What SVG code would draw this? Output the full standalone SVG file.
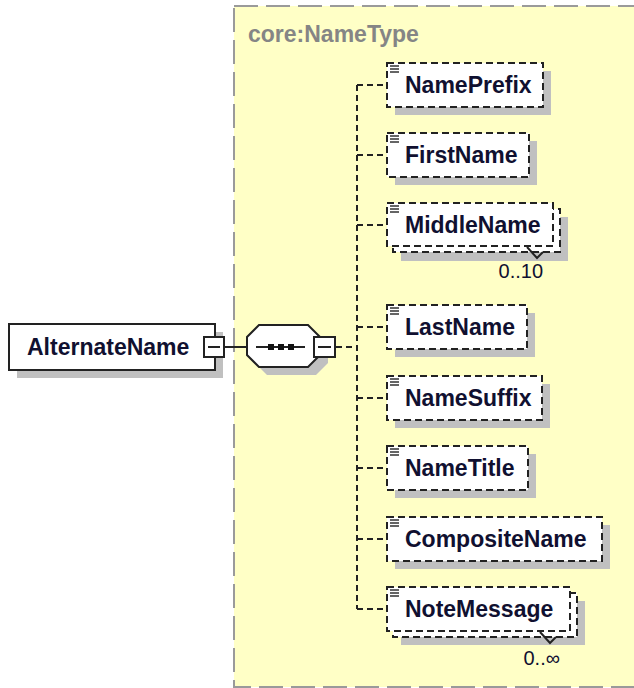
<svg xmlns="http://www.w3.org/2000/svg" width="634" height="688" viewBox="0 0 634 688">
<defs>
<style>
.t{font-family:"Liberation Sans",Arial,sans-serif;font-weight:bold;font-size:23px;fill:#101030}
.occ{font-family:"Liberation Sans",Arial,sans-serif;font-size:20px;fill:#101030;text-anchor:end}
.shadow{fill:#c0c0c0}
.el{fill:#fff;stroke:#222;stroke-width:2;stroke-dasharray:7 4}
.conn{fill:none;stroke:#222;stroke-width:2;stroke-dasharray:6 4}
.solid{fill:none;stroke:#222;stroke-width:2}
.ico{stroke:#333;stroke-width:1.3}
</style>
</defs>
<rect x="0" y="0" width="634" height="688" fill="#fff"/>
<rect x="234" y="6" width="420" height="681" fill="#ffffc6" stroke="#9a9a9a" stroke-width="2" stroke-dasharray="24 8"/>
<text x="248" y="42" style="font-family:'Liberation Sans',Arial,sans-serif;font-weight:bold;font-size:23px;fill:#858585">core:NameType</text>

<g id="connectors">
<line class="solid" x1="224" y1="347" x2="247" y2="347"/>
<line class="conn" x1="336" y1="347" x2="357" y2="347"/>
<line class="conn" x1="357" y1="85" x2="357" y2="609"/>
<line class="conn" x1="357" y1="85" x2="387" y2="85"/>
<line class="conn" x1="357" y1="155" x2="387" y2="155"/>
<line class="conn" x1="357" y1="225" x2="387" y2="225"/>
<line class="conn" x1="357" y1="327" x2="387" y2="327"/>
<line class="conn" x1="357" y1="398" x2="387" y2="398"/>
<line class="conn" x1="357" y1="468" x2="387" y2="468"/>
<line class="conn" x1="357" y1="539" x2="387" y2="539"/>
<line class="conn" x1="357" y1="609" x2="387" y2="609"/>
</g>

<g id="AlternateName">
<rect class="shadow" x="17" y="332" width="206" height="46"/>
<rect x="9" y="324" width="206" height="46" fill="#fff" stroke="#222" stroke-width="2"/>
<text class="t" x="27" y="355">AlternateName</text>
<rect x="204" y="337" width="20" height="20" fill="#fff" stroke="#222" stroke-width="2"/>
<line x1="208" y1="347" x2="220" y2="347" stroke="#222" stroke-width="2"/>
</g>

<g id="sequence">
<polygon class="shadow" points="267,333 316,333 328,345 328,363 316,375 267,375 255,363 255,345"/>
<polygon points="259,325 308,325 320,337 320,355 308,367 259,367 247,355 247,337" fill="#fff" stroke="#222" stroke-width="2"/>
<line x1="256" y1="347" x2="305" y2="347" stroke="#222" stroke-width="2"/>
<rect x="268" y="344" width="6" height="6" fill="#111"/>
<rect x="278" y="344" width="6" height="6" fill="#111"/>
<rect x="288" y="344" width="6" height="6" fill="#111"/>
<rect x="314" y="337" width="21" height="20" fill="#fff" stroke="#222" stroke-width="2"/>
<line x1="318" y1="347" x2="331" y2="347" stroke="#222" stroke-width="2"/>
</g>

<g id="NamePrefix">
<rect class="shadow" x="395" y="71" width="156" height="44"/>
<rect class="el" x="387" y="63" width="156" height="44"/>
<path class="ico" d="M390 66h9M390 69h9M390 72h9"/>
<text class="t" x="405" y="93">NamePrefix</text>
</g>

<g id="FirstName">
<rect class="shadow" x="395" y="141" width="142" height="44"/>
<rect class="el" x="387" y="133" width="142" height="44"/>
<path class="ico" d="M390 136h9M390 139h9M390 142h9"/>
<text class="t" x="405" y="163">FirstName</text>
</g>

<g id="MiddleName">
<rect class="shadow" x="401" y="217" width="167" height="44"/>
<rect class="el" x="393" y="209" width="167" height="43"/>
<rect class="el" x="387" y="203" width="166" height="43"/>
<path class="ico" d="M390 206h9M390 209h9M390 212h9"/>
<text class="t" x="405" y="233">MiddleName</text>
<polyline class="solid" stroke-width="1.5" points="527,247 537,258 543,252"/>
<text class="occ" x="543" y="278">0..10</text>
</g>

<g id="LastName">
<rect class="shadow" x="395" y="313" width="140" height="44"/>
<rect class="el" x="387" y="305" width="140" height="44"/>
<path class="ico" d="M390 308h9M390 311h9M390 314h9"/>
<text class="t" x="405" y="335">LastName</text>
</g>

<g id="NameSuffix">
<rect class="shadow" x="395" y="384" width="155" height="44"/>
<rect class="el" x="387" y="376" width="155" height="44"/>
<path class="ico" d="M390 379h9M390 382h9M390 385h9"/>
<text class="t" x="405" y="406">NameSuffix</text>
</g>

<g id="NameTitle">
<rect class="shadow" x="395" y="454" width="141" height="44"/>
<rect class="el" x="387" y="446" width="141" height="44"/>
<path class="ico" d="M390 449h9M390 452h9M390 455h9"/>
<text class="t" x="405" y="476">NameTitle</text>
</g>

<g id="CompositeName">
<rect class="shadow" x="395" y="525" width="215" height="44"/>
<rect class="el" x="387" y="517" width="215" height="44"/>
<path class="ico" d="M390 520h9M390 523h9M390 526h9"/>
<text class="t" x="405" y="547">CompositeName</text>
</g>

<g id="NoteMessage">
<rect class="shadow" x="401" y="601" width="184" height="44"/>
<rect class="el" x="393" y="593" width="184" height="44"/>
<rect class="el" x="387" y="587" width="183" height="44"/>
<path class="ico" d="M390 590h9M390 593h9M390 596h9"/>
<text class="t" x="405" y="617">NoteMessage</text>
<polyline class="solid" stroke-width="1.5" points="540,632 550,643 556,637"/>
<text class="occ" x="560" y="665">0..∞</text>
</g>
</svg>
